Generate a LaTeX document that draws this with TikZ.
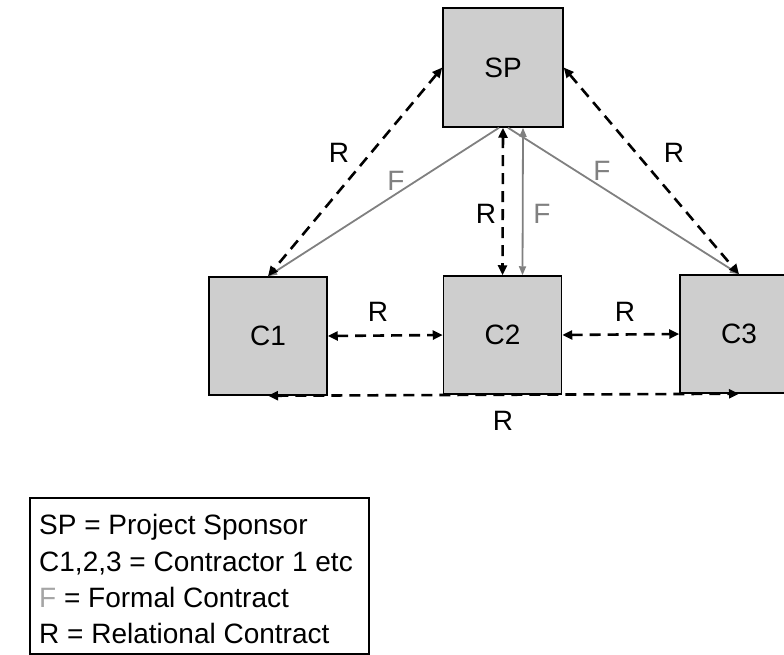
\documentclass[tikz,border=0pt]{standalone}
\usepackage{fontspec}
\setmainfont{Liberation Sans}
\usetikzlibrary{arrows.meta}
\definecolor{boxgray}{RGB}{206,206,206}
\definecolor{fgray}{RGB}{128,128,128}
\definecolor{flight}{RGB}{165,165,165}
\newcommand{\labfont}{\fontsize{28}{34}\selectfont}
\tikzset{
  party/.style={draw, line width=1.5pt, fill=boxgray, minimum width=118pt,
    minimum height=118pt, inner sep=0pt, font=\labfont},
  rel/.style={line width=2.6pt, dash pattern=on 11pt off 7pt,
    {Triangle[length=10pt,width=9pt]}-{Triangle[length=10pt,width=9pt]}},
  relone/.style={line width=2.6pt, dash pattern=on 11pt off 7pt,
    -{Triangle[length=10pt,width=9pt]}},
  formal/.style={draw=fgray, line width=1.8pt, -{Triangle[length=9pt,width=7pt]}},
  formaltwo/.style={draw=fgray, line width=1.8pt,
    {Triangle[length=9pt,width=7pt]}-{Triangle[length=9pt,width=7pt]}},
  rlab/.style={font=\labfont, inner sep=0pt},
  flab/.style={font=\labfont, inner sep=0pt, text=fgray},
  legline/.style={font=\labfont, inner sep=0pt, anchor=base west}
}
\begin{document}
\begin{tikzpicture}[x=1pt,y=-1pt]
\useasboundingbox (0,0) rectangle (784,654);

% parties
\node[party, minimum width=120pt, minimum height=119pt] (sp) at (503,67.5) {SP};
\node[party] (c1) at (268,336) {C1};
\node[party] (c2) at (502.5,335) {C2};
\node[party] (c3) at (739,334) {C3};

% formal contracts
\draw[formal] ([xshift=-4pt]sp.south) -- (c1.north);
\draw[formal] ([xshift=5pt]sp.south) -- (c3.north);
\draw[formaltwo] ([xshift=20pt]sp.south) -- ([xshift=20pt]c2.north);

% relational contracts
\draw[rel] (sp.west) -- (c1.north);
\draw[rel] (sp.east) -- (c3.north);
\draw[rel] (sp.south) -- (c2.north);
\draw[rel] (c1.east) -- (c2.west);
\draw[rel] (c2.east) -- (c3.west);
\draw[rel] (c1.south) -- (c3.south);

% connector labels
\node[rlab] (r1) at (339,153) {R};
\node[flab] (f1) at (396,181) {F};
\node[rlab] (r2) at (486,214) {R};
\node[flab] (f2) at (542,214) {F};
\node[flab] (f3) at (602,171) {F};
\node[rlab] (r3) at (674,153) {R};
\node[rlab] (r4) at (378,312) {R};
\node[rlab] (r5) at (625,312) {R};
\node[rlab] (r6) at (503,421) {R};

% key
\node[draw, line width=1.5pt, minimum width=339pt, minimum height=156pt,
  inner sep=0pt, anchor=north west] (key) at (29,497) {};
\node[legline] (k1) at (39,534) {SP = Project Sponsor};
\node[legline] (k2) at (39,571) {C1,2,3 = Contractor 1 etc};
\node[legline] (k3) at (39,607) {\textcolor{flight}{F} = Formal Contract};
\node[legline] (k4) at (39,643) {R = Relational Contract};
\end{tikzpicture}
\end{document}
